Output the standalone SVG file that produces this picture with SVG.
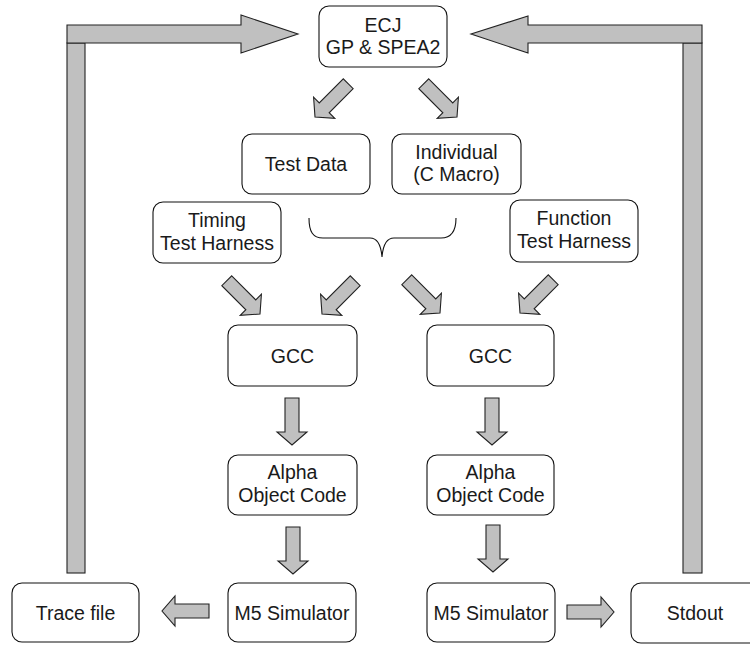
<svg xmlns="http://www.w3.org/2000/svg" width="750" height="646" viewBox="0 0 750 646">
<style>
.box{fill:#fff;stroke:#111;stroke-width:1.1}
.t{font-family:"Liberation Sans",Arial,sans-serif;font-size:19.5px;fill:#1a1a1a;text-anchor:middle}
.arr{fill:#c0c0c0;stroke:#222;stroke-width:1.1;stroke-linejoin:miter}
.brace{fill:none;stroke:#111;stroke-width:1.1}
</style>
<defs>
<path id="ba" d="M-47,-7 H-13 V-15 L0,0 L-13,15 V7 H-47 Z"/>
</defs>
<rect width="750" height="646" fill="#fff"/>
<g id="connectors">
<rect class="arr" x="67" y="43" width="18" height="530"/>
<polygon class="arr" points="67,25 241,25 241,15 298,34 241,53 241,43 67,43"/>
<rect class="arr" x="683" y="43" width="19" height="530"/>
<polygon class="arr" points="702,25 528,25 528,16 471,34 528,53 528,43 702,43"/>
<use href="#ba" class="arr" transform="translate(315,117) rotate(135)"/>
<use href="#ba" class="arr" transform="translate(457,117) rotate(45)"/>
<use href="#ba" class="arr" transform="translate(260,314) rotate(45)"/>
<use href="#ba" class="arr" transform="translate(322,314) rotate(135)"/>
<use href="#ba" class="arr" transform="translate(440,313) rotate(45)"/>
<use href="#ba" class="arr" transform="translate(520,313) rotate(135)"/>
<use href="#ba" class="arr" transform="translate(292,445) rotate(90)"/>
<use href="#ba" class="arr" transform="translate(492,445) rotate(90)"/>
<use href="#ba" class="arr" transform="translate(293,574) rotate(90)"/>
<use href="#ba" class="arr" transform="translate(493,572) rotate(90)"/>
<use href="#ba" class="arr" transform="translate(162,611) rotate(180)"/>
<use href="#ba" class="arr" transform="translate(614,612)"/>
<path id="brace" class="brace" d="M309,218 C309,232 313,238 323,238 H370 C377,238 381,245 382,257 C383,245 387,238 394,238 H441 C451,238 456,232 456,218"/>
</g>
<g id="ecj"><rect class="box" x="319" y="6" width="128" height="61" rx="10"/><text class="t" x="383" y="32">ECJ</text><text class="t" x="383" y="54">GP &amp; SPEA2</text></g>
<g id="testdata"><rect class="box" x="242" y="134" width="128" height="60" rx="10"/><text class="t" x="306" y="171">Test Data</text></g>
<g id="individual"><rect class="box" x="392" y="134" width="129" height="60" rx="10"/><text class="t" x="456.5" y="159">Individual</text><text class="t" x="456.5" y="181">(C Macro)</text></g>
<g id="timing"><rect class="box" x="153" y="202" width="128" height="61" rx="10"/><text class="t" x="217" y="227">Timing</text><text class="t" x="217" y="250">Test Harness</text></g>
<g id="function"><rect class="box" x="510" y="200" width="128" height="62" rx="10"/><text class="t" x="574" y="225">Function</text><text class="t" x="574" y="248">Test Harness</text></g>
<g id="gcc1"><rect class="box" x="228" y="325" width="129" height="61" rx="10"/><text class="t" x="292.5" y="363">GCC</text></g>
<g id="gcc2"><rect class="box" x="427" y="325" width="127" height="61" rx="10"/><text class="t" x="490.5" y="363">GCC</text></g>
<g id="alpha1"><rect class="box" x="228" y="455" width="129" height="60" rx="10"/><text class="t" x="292.5" y="479">Alpha</text><text class="t" x="292.5" y="502">Object Code</text></g>
<g id="alpha2"><rect class="box" x="427" y="455" width="127" height="60" rx="10"/><text class="t" x="490.5" y="479">Alpha</text><text class="t" x="490.5" y="502">Object Code</text></g>
<g id="tracefile"><rect class="box" x="12" y="583" width="127" height="59" rx="10"/><text class="t" x="75.5" y="620">Trace file</text></g>
<g id="m5left"><rect class="box" x="228" y="583" width="128" height="59" rx="10"/><text class="t" x="292" y="620">M5 Simulator</text></g>
<g id="m5right"><rect class="box" x="427" y="583" width="128" height="59" rx="10"/><text class="t" x="491" y="620">M5 Simulator</text></g>
<g id="stdout"><rect class="box" x="631" y="583" width="128" height="60" rx="10"/><text class="t" x="695" y="620">Stdout</text></g>
</svg>
